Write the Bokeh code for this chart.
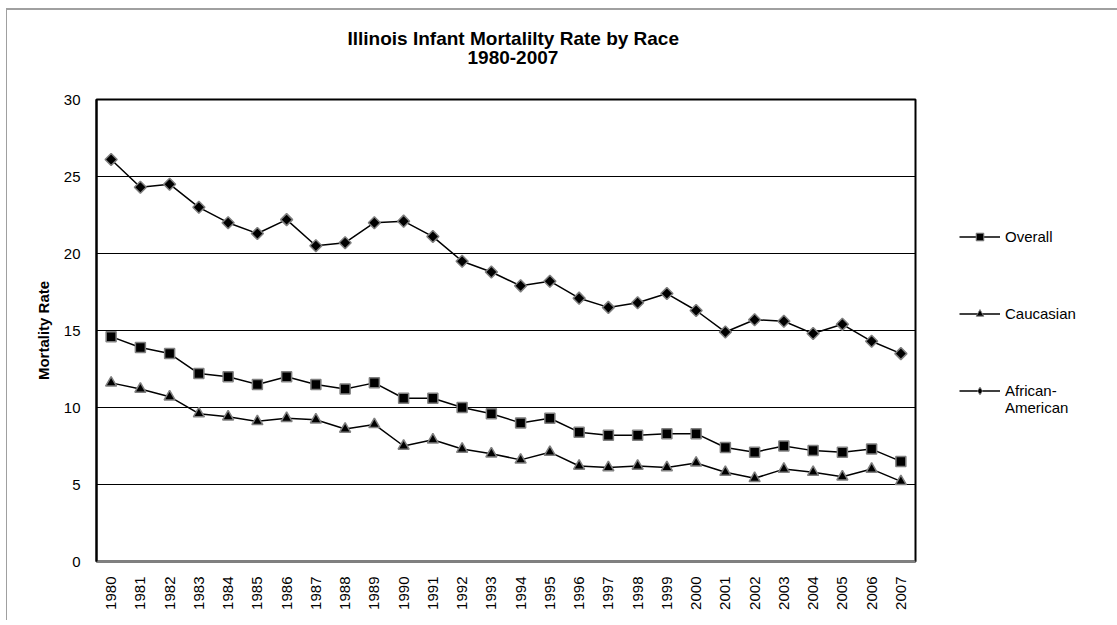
from bokeh.plotting import figure
from bokeh.models import (FactorRange, Range1d, FixedTicker, Legend, LegendItem, Title, ColumnDataSource)
from bokeh.embed import file_html
from bokeh.resources import INLINE
import math

years = ["1980", "1981", "1982", "1983", "1984", "1985", "1986", "1987", "1988", "1989",
         "1990", "1991", "1992", "1993", "1994", "1995", "1996", "1997", "1998", "1999",
         "2000", "2001", "2002", "2003", "2004", "2005", "2006", "2007"]
overall = [14.6, 13.9, 13.5, 12.2, 12.0, 11.5, 12.0, 11.5, 11.2, 11.6, 10.6, 10.6, 10.0, 9.6,
           9.0, 9.3, 8.4, 8.2, 8.2, 8.3, 8.3, 7.4, 7.1, 7.5, 7.2, 7.1, 7.3, 6.5]
caucasian = [11.6, 11.2, 10.7, 9.6, 9.4, 9.1, 9.3, 9.2, 8.6, 8.9, 7.5, 7.9, 7.3, 7.0,
             6.6, 7.1, 6.2, 6.1, 6.2, 6.1, 6.4, 5.8, 5.4, 6.0, 5.8, 5.5, 6.0, 5.2]
african_american = [26.1, 24.3, 24.5, 23.0, 22.0, 21.3, 22.2, 20.5, 20.7, 22.0, 22.1, 21.1, 19.5, 18.8,
                     17.9, 18.2, 17.1, 16.5, 16.8, 17.4, 16.3, 14.9, 15.7, 15.6, 14.8, 15.4, 14.3, 13.5]
y_ticks = [0, 5, 10, 15, 20, 25, 30]
title_text = "Illinois Infant Mortalilty Rate by Race"
subtitle_text = "1980-2007"
series_labels = [" \nOverall\n ", " \nCaucasian\n ", " \nAfrican-\nAmerican"]

FONT = "Liberation Sans"

p = figure(x_range=FactorRange(factors=years), y_range=Range1d(0, 30),
           frame_width=819, frame_height=462, output_backend="svg", toolbar_location=None,
           min_border_left=89, min_border_right=200, min_border_top=89, min_border_bottom=61,
           background_fill_color="white", border_fill_color="white")
p.margin = (10, 0, 0, 7)
p.styles = {"box-shadow": "-1px -2px 0 0 #a0a0a0"}

p.outline_line_color = "black"
p.outline_line_width = 2

p.xgrid.grid_line_color = None
p.ygrid.grid_line_color = "black"
p.ygrid.grid_line_width = 1.2
p.yaxis.ticker = FixedTicker(ticks=y_ticks)

for ax in (p.xaxis[0], p.yaxis[0]):
    ax.major_tick_line_color = None
    ax.minor_tick_line_color = None
    ax.major_label_text_font = FONT
    ax.major_label_text_font_size = "15px"
    ax.major_label_text_color = "black"

p.xaxis.axis_line_color = "#808080"
p.xaxis.axis_line_width = 2
p.xaxis.major_label_orientation = math.pi / 2
p.xaxis.major_label_standoff = 9
p.yaxis.axis_line_color = "black"
p.yaxis.axis_line_width = 2
p.yaxis.major_label_standoff = 10
p.yaxis.axis_label = "Mortality Rate"
p.yaxis.axis_label_text_font = FONT
p.yaxis.axis_label_text_font_size = "15px"
p.yaxis.axis_label_text_font_style = "bold"
p.yaxis.axis_label_text_color = "black"
p.yaxis.axis_label_standoff = 9

series = [
    (series_labels[0], overall, "square", 10, 0.0, "square"),
    (series_labels[1], caucasian, "triangle", 11, 0.0, "triangle"),
    (series_labels[2], african_american, "square", 8.5, math.pi / 4, "diamond"),
]
items = []
for name, vals, marker, size, ang, lmarker in series:
    ln = p.line(years, vals, line_color="black", line_width=1.5)
    p.scatter(years, vals, marker=marker, size=size, angle=ang,
              fill_color="black", line_color="#808080", line_width=1.5)
    # legend-only marker (a single NaN point, so nothing is drawn in the plot area)
    key = ColumnDataSource(data=dict(x=[years[0]], y=[float("nan")]))
    lg = p.scatter("x", "y", source=key, marker=lmarker, size=8,
                   fill_color="black", line_color="#808080", line_width=1)
    items.append(LegendItem(label=name, renderers=[ln, lg]))

legend = Legend(items=items, location=(44, 145), orientation="vertical",
                glyph_width=41, glyph_height=19, label_height=16, spacing=26,
                padding=0, margin=0, border_line_color=None, background_fill_alpha=0,
                label_text_font=FONT, label_text_font_size="15px", label_standoff=5,
                label_text_line_height=1.07, label_text_color="black")
p.add_layout(legend, "right")

# spacer between frame and titles
p.add_layout(Title(text=" ", standoff=13, text_font=FONT, text_font_size="19px"), "above")
p.add_layout(Title(text=subtitle_text, align="left", offset=371, standoff=0, text_color="black",
                   text_font=FONT, text_font_size="19px", text_font_style="bold"), "above")
p.add_layout(Title(text=title_text, align="left", offset=251, standoff=0, text_color="black",
                   text_font=FONT, text_font_size="19px", text_font_style="bold"), "above")

open("out.html", "w").write(file_html(p, INLINE))
